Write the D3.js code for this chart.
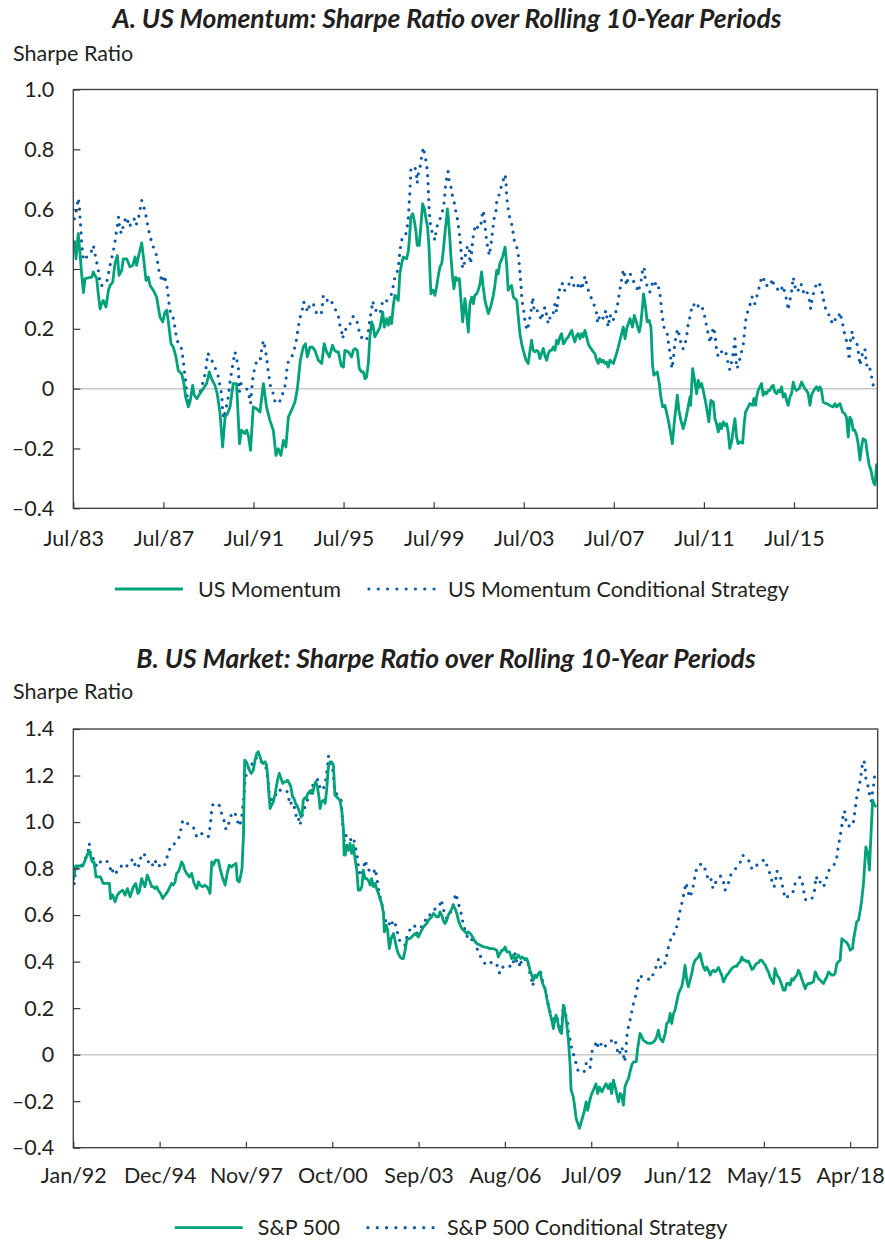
<!DOCTYPE html>
<html><head><meta charset="utf-8">
<script src="https://cdn.jsdelivr.net/npm/d3@7"></script>
<style>
body{margin:0;background:#fff;}
svg text{font-family:Lato,"Open Sans",sans-serif;fill:#231f20;}
</style></head><body>
<svg id="c" width="885" height="1241"></svg>
<script>
// ---------- Panel A data (decimal year, Sharpe ratio) ----------
const panelATitle = "A. US Momentum: Sharpe Ratio over Rolling 10-Year Periods";
const panelASeriesNames = ["US Momentum", "US Momentum Conditional Strategy"];
const panelAXLabels = ["Jul/83","Jul/87","Jul/91","Jul/95","Jul/99","Jul/03","Jul/07","Jul/11","Jul/15"];
const panelAYTicks = [-0.4,-0.2,0,0.2,0.4,0.6,0.8,1.0];
const panelAXDomain = [1983.5, 2019.2];
const usMomentum = [[1983.55,0.496],[1983.62,0.434],[1983.72,0.518],[1983.80,0.451],[1983.87,0.384],[1983.95,0.321],[1984.02,0.368],[1984.17,0.370],[1984.32,0.373],[1984.39,0.390],[1984.46,0.379],[1984.54,0.368],[1984.61,0.317],[1984.69,0.267],[1984.76,0.284],[1984.83,0.295],[1984.95,0.273],[1985.06,0.329],[1985.13,0.345],[1985.25,0.356],[1985.35,0.418],[1985.46,0.445],[1985.53,0.379],[1985.65,0.395],[1985.72,0.434],[1985.87,0.434],[1986.02,0.407],[1986.14,0.412],[1986.24,0.440],[1986.31,0.412],[1986.42,0.451],[1986.54,0.487],[1986.64,0.423],[1986.73,0.362],[1986.83,0.373],[1986.91,0.345],[1987.05,0.329],[1987.20,0.306],[1987.35,0.239],[1987.47,0.223],[1987.57,0.256],[1987.65,0.262],[1987.72,0.223],[1987.84,0.150],[1987.94,0.139],[1988.06,0.106],[1988.16,0.061],[1988.31,0.050],[1988.41,0.017],[1988.49,-0.028],[1988.61,-0.061],[1988.68,-0.045],[1988.80,0.011],[1988.87,-0.022],[1988.98,-0.033],[1989.12,-0.017],[1989.27,0.000],[1989.42,0.017],[1989.54,0.056],[1989.64,0.033],[1989.79,0.011],[1989.89,-0.017],[1990.01,-0.078],[1990.13,-0.195],[1990.24,-0.095],[1990.35,-0.083],[1990.46,-0.061],[1990.60,0.017],[1990.75,0.017],[1990.88,-0.184],[1990.97,-0.139],[1991.12,-0.150],[1991.20,-0.139],[1991.27,-0.156],[1991.37,-0.206],[1991.49,-0.061],[1991.64,-0.067],[1991.79,-0.078],[1991.94,0.017],[1992.08,-0.061],[1992.23,-0.106],[1992.38,-0.139],[1992.50,-0.223],[1992.60,-0.201],[1992.72,-0.223],[1992.83,-0.173],[1992.94,-0.195],[1993.05,-0.095],[1993.19,-0.072],[1993.34,-0.045],[1993.45,0.000],[1993.52,0.050],[1993.58,0.095],[1993.71,0.139],[1993.81,0.150],[1993.89,0.106],[1994.01,0.139],[1994.12,0.139],[1994.23,0.128],[1994.38,0.095],[1994.53,0.084],[1994.64,0.150],[1994.75,0.123],[1994.87,0.106],[1995.01,0.145],[1995.10,0.128],[1995.19,0.123],[1995.27,0.123],[1995.39,0.078],[1995.49,0.072],[1995.56,0.128],[1995.71,0.123],[1995.86,0.106],[1995.93,0.128],[1996.01,0.134],[1996.11,0.128],[1996.20,0.067],[1996.30,0.056],[1996.38,0.056],[1996.45,0.033],[1996.52,0.039],[1996.60,0.084],[1996.67,0.173],[1996.75,0.223],[1996.82,0.206],[1996.89,0.173],[1996.97,0.184],[1997.12,0.206],[1997.24,0.256],[1997.31,0.206],[1997.41,0.234],[1997.49,0.212],[1997.56,0.239],[1997.635,0.217],[1997.71,0.278],[1997.78,0.312],[1997.86,0.306],[1997.93,0.295],[1998.00,0.384],[1998.08,0.418],[1998.15,0.440],[1998.30,0.434],[1998.38,0.462],[1998.42,0.496],[1998.49,0.574],[1998.57,0.585],[1998.64,0.562],[1998.71,0.529],[1998.77,0.479],[1998.86,0.479],[1998.94,0.551],[1999.01,0.618],[1999.09,0.601],[1999.16,0.568],[1999.23,0.540],[1999.29,0.479],[1999.34,0.384],[1999.38,0.317],[1999.48,0.329],[1999.56,0.312],[1999.63,0.340],[1999.71,0.379],[1999.78,0.407],[1999.86,0.418],[1999.93,0.462],[2000.00,0.518],[2000.08,0.574],[2000.11,0.601],[2000.15,0.574],[2000.22,0.501],[2000.27,0.440],[2000.34,0.373],[2000.40,0.334],[2000.48,0.373],[2000.57,0.362],[2000.64,0.368],[2000.71,0.301],[2000.79,0.223],[2000.89,0.301],[2000.96,0.251],[2001.04,0.189],[2001.11,0.284],[2001.19,0.306],[2001.26,0.284],[2001.33,0.312],[2001.41,0.317],[2001.48,0.329],[2001.56,0.351],[2001.63,0.390],[2001.70,0.340],[2001.78,0.295],[2001.85,0.273],[2001.93,0.251],[2002.03,0.273],[2002.15,0.312],[2002.22,0.345],[2002.30,0.395],[2002.37,0.384],[2002.44,0.418],[2002.56,0.440],[2002.67,0.473],[2002.74,0.418],[2002.81,0.329],[2002.89,0.340],[2002.96,0.345],[2003.04,0.306],[2003.19,0.295],[2003.26,0.239],[2003.33,0.184],[2003.41,0.150],[2003.48,0.128],[2003.60,0.095],[2003.70,0.084],[2003.78,0.128],[2003.85,0.161],[2003.92,0.128],[2004.00,0.123],[2004.07,0.128],[2004.15,0.123],[2004.22,0.100],[2004.29,0.117],[2004.37,0.134],[2004.44,0.111],[2004.52,0.095],[2004.59,0.117],[2004.67,0.128],[2004.74,0.128],[2004.81,0.139],[2004.89,0.128],[2004.96,0.161],[2005.03,0.150],[2005.11,0.173],[2005.18,0.184],[2005.26,0.150],[2005.33,0.156],[2005.40,0.167],[2005.48,0.173],[2005.55,0.184],[2005.63,0.195],[2005.70,0.173],[2005.77,0.156],[2005.85,0.178],[2005.92,0.184],[2006.00,0.167],[2006.07,0.184],[2006.14,0.173],[2006.22,0.195],[2006.29,0.173],[2006.37,0.150],[2006.44,0.139],[2006.59,0.123],[2006.66,0.117],[2006.74,0.095],[2006.81,0.084],[2006.88,0.100],[2006.96,0.089],[2007.03,0.095],[2007.11,0.084],[2007.18,0.089],[2007.25,0.072],[2007.33,0.095],[2007.40,0.089],[2007.48,0.084],[2007.62,0.117],[2007.70,0.139],[2007.77,0.161],[2007.85,0.184],[2007.92,0.206],[2008.00,0.167],[2008.07,0.200],[2008.22,0.234],[2008.33,0.206],[2008.41,0.245],[2008.48,0.228],[2008.56,0.206],[2008.63,0.189],[2008.69,0.212],[2008.76,0.262],[2008.82,0.317],[2008.91,0.273],[2008.98,0.223],[2009.07,0.228],[2009.15,0.206],[2009.22,0.078],[2009.28,0.045],[2009.35,0.050],[2009.43,0.056],[2009.52,0.017],[2009.59,-0.028],[2009.67,-0.061],[2009.77,-0.056],[2009.89,-0.095],[2009.99,-0.134],[2010.10,-0.184],[2010.18,-0.117],[2010.32,-0.022],[2010.39,-0.072],[2010.48,-0.106],[2010.58,-0.134],[2010.70,-0.100],[2010.80,-0.061],[2010.88,-0.028],[2010.91,-0.056],[2011.00,0.067],[2011.10,0.022],[2011.18,-0.017],[2011.25,0.028],[2011.32,0.006],[2011.40,0.017],[2011.47,-0.006],[2011.59,-0.050],[2011.72,-0.111],[2011.81,-0.039],[2011.92,-0.045],[2011.99,-0.100],[2012.06,-0.117],[2012.14,-0.145],[2012.21,-0.117],[2012.28,-0.134],[2012.36,-0.111],[2012.43,-0.123],[2012.51,-0.117],[2012.58,-0.145],[2012.65,-0.200],[2012.73,-0.178],[2012.80,-0.139],[2012.88,-0.100],[2012.95,-0.161],[2013.02,-0.184],[2013.10,-0.178],[2013.22,-0.182],[2013.29,-0.117],[2013.35,-0.078],[2013.47,-0.061],[2013.54,-0.050],[2013.66,-0.056],[2013.72,-0.033],[2013.80,-0.056],[2013.84,-0.028],[2013.91,-0.006],[2013.99,0.006],[2014.06,0.017],[2014.13,-0.022],[2014.21,-0.011],[2014.28,-0.017],[2014.36,-0.006],[2014.43,-0.006],[2014.50,0.006],[2014.58,0.011],[2014.65,-0.011],[2014.73,-0.017],[2014.80,-0.006],[2014.87,-0.011],[2014.95,0.006],[2015.02,-0.028],[2015.10,-0.017],[2015.17,-0.039],[2015.24,-0.056],[2015.32,-0.028],[2015.39,-0.017],[2015.47,0.022],[2015.54,0.000],[2015.61,-0.006],[2015.73,0.000],[2015.84,0.022],[2015.91,0.011],[2015.98,0.000],[2016.06,-0.006],[2016.13,-0.017],[2016.21,-0.056],[2016.28,-0.022],[2016.35,-0.011],[2016.43,0.000],[2016.50,0.006],[2016.58,-0.006],[2016.65,0.006],[2016.72,-0.006],[2016.80,-0.045],[2016.95,-0.050],[2017.10,-0.056],[2017.24,-0.061],[2017.32,-0.050],[2017.39,-0.061],[2017.54,-0.050],[2017.66,-0.078],[2017.76,-0.084],[2017.83,-0.095],[2017.91,-0.161],[2017.98,-0.095],[2018.06,-0.106],[2018.13,-0.139],[2018.20,-0.139],[2018.28,-0.156],[2018.35,-0.184],[2018.43,-0.239],[2018.50,-0.195],[2018.57,-0.167],[2018.68,-0.173],[2018.77,-0.223],[2018.84,-0.256],[2018.92,-0.273],[2018.99,-0.301],[2019.05,-0.317],[2019.10,-0.322],[2019.17,-0.251]];
const usMomentumConditional = [[1983.55,0.568],[1983.62,0.590],[1983.68,0.618],[1983.72,0.637],[1983.77,0.613],[1983.80,0.568],[1983.83,0.540],[1983.87,0.484],[1983.92,0.451],[1983.95,0.429],[1984.09,0.440],[1984.21,0.445],[1984.32,0.462],[1984.39,0.479],[1984.46,0.451],[1984.54,0.423],[1984.61,0.395],[1984.66,0.368],[1984.72,0.345],[1984.83,0.345],[1984.91,0.351],[1984.98,0.356],[1985.06,0.384],[1985.13,0.412],[1985.20,0.434],[1985.28,0.462],[1985.35,0.490],[1985.40,0.518],[1985.46,0.546],[1985.51,0.574],[1985.57,0.529],[1985.65,0.518],[1985.75,0.557],[1985.87,0.574],[1985.99,0.540],[1986.09,0.557],[1986.20,0.568],[1986.28,0.546],[1986.39,0.568],[1986.46,0.596],[1986.54,0.629],[1986.61,0.613],[1986.70,0.590],[1986.76,0.562],[1986.88,0.518],[1986.98,0.490],[1987.08,0.468],[1987.20,0.445],[1987.30,0.395],[1987.38,0.373],[1987.47,0.356],[1987.54,0.379],[1987.62,0.356],[1987.69,0.329],[1987.76,0.278],[1987.82,0.251],[1987.91,0.245],[1987.99,0.217],[1988.04,0.189],[1988.12,0.161],[1988.21,0.139],[1988.31,0.134],[1988.39,0.089],[1988.43,0.061],[1988.50,0.017],[1988.53,-0.017],[1988.61,-0.045],[1988.71,-0.028],[1988.80,0.000],[1988.90,-0.028],[1988.98,-0.033],[1989.05,-0.022],[1989.16,-0.006],[1989.24,0.017],[1989.32,0.039],[1989.39,0.067],[1989.47,0.119],[1989.57,0.106],[1989.72,0.084],[1989.87,0.056],[1989.97,0.033],[1990.01,0.006],[1990.09,-0.017],[1990.13,-0.072],[1990.18,-0.100],[1990.24,-0.078],[1990.31,-0.056],[1990.38,-0.028],[1990.46,0.022],[1990.53,0.056],[1990.61,0.095],[1990.68,0.123],[1990.75,0.100],[1990.83,0.072],[1990.87,-0.011],[1990.94,0.017],[1991.05,0.011],[1991.20,0.000],[1991.32,-0.028],[1991.37,-0.050],[1991.46,0.028],[1991.57,0.078],[1991.64,0.089],[1991.79,0.089],[1991.86,0.128],[1991.94,0.161],[1992.01,0.139],[1992.08,0.106],[1992.16,0.056],[1992.26,0.006],[1992.38,-0.017],[1992.48,-0.050],[1992.60,-0.045],[1992.71,-0.039],[1992.82,-0.011],[1992.93,0.017],[1993.00,0.078],[1993.09,0.100],[1993.19,0.106],[1993.27,0.117],[1993.39,0.156],[1993.49,0.206],[1993.56,0.236],[1993.67,0.262],[1993.71,0.290],[1993.81,0.284],[1993.90,0.256],[1994.01,0.284],[1994.16,0.284],[1994.27,0.256],[1994.45,0.245],[1994.53,0.256],[1994.60,0.312],[1994.72,0.306],[1994.83,0.284],[1994.97,0.290],[1995.12,0.267],[1995.27,0.245],[1995.31,0.219],[1995.41,0.195],[1995.46,0.167],[1995.52,0.189],[1995.61,0.200],[1995.71,0.217],[1995.81,0.217],[1995.93,0.242],[1996.08,0.231],[1996.16,0.204],[1996.23,0.178],[1996.38,0.164],[1996.52,0.161],[1996.60,0.189],[1996.64,0.217],[1996.70,0.245],[1996.75,0.267],[1996.79,0.293],[1996.89,0.267],[1997.04,0.251],[1997.12,0.251],[1997.19,0.273],[1997.24,0.297],[1997.31,0.295],[1997.41,0.293],[1997.56,0.306],[1997.635,0.317],[1997.71,0.345],[1997.78,0.373],[1997.86,0.384],[1997.93,0.407],[1997.97,0.434],[1998.00,0.457],[1998.05,0.484],[1998.12,0.509],[1998.23,0.512],[1998.30,0.523],[1998.38,0.574],[1998.40,0.601],[1998.42,0.629],[1998.45,0.657],[1998.46,0.685],[1998.48,0.711],[1998.49,0.738],[1998.60,0.738],[1998.67,0.741],[1998.74,0.713],[1998.77,0.687],[1998.82,0.718],[1998.89,0.737],[1998.94,0.765],[1999.01,0.791],[1999.04,0.807],[1999.11,0.780],[1999.19,0.752],[1999.22,0.724],[1999.25,0.696],[1999.26,0.668],[1999.28,0.640],[1999.29,0.613],[1999.31,0.590],[1999.34,0.562],[1999.37,0.538],[1999.46,0.518],[1999.56,0.496],[1999.60,0.523],[1999.68,0.551],[1999.82,0.574],[1999.90,0.596],[1999.97,0.624],[2000.00,0.652],[2000.03,0.679],[2000.09,0.709],[2000.14,0.726],[2000.19,0.696],[2000.27,0.674],[2000.33,0.646],[2000.42,0.620],[2000.49,0.590],[2000.57,0.562],[2000.64,0.520],[2000.68,0.496],[2000.71,0.468],[2000.74,0.440],[2000.79,0.401],[2000.86,0.418],[2000.92,0.453],[2001.01,0.479],[2001.08,0.468],[2001.11,0.418],[2001.16,0.429],[2001.23,0.496],[2001.30,0.529],[2001.38,0.549],[2001.48,0.535],[2001.60,0.546],[2001.63,0.571],[2001.70,0.596],[2001.75,0.571],[2001.81,0.523],[2001.85,0.496],[2001.90,0.473],[2001.97,0.445],[2002.07,0.496],[2002.12,0.529],[2002.19,0.571],[2002.27,0.596],[2002.30,0.624],[2002.37,0.635],[2002.44,0.663],[2002.56,0.685],[2002.62,0.707],[2002.67,0.716],[2002.71,0.698],[2002.74,0.646],[2002.78,0.618],[2002.83,0.590],[2002.89,0.568],[2002.98,0.546],[2003.08,0.496],[2003.19,0.473],[2003.26,0.445],[2003.30,0.418],[2003.33,0.390],[2003.36,0.362],[2003.39,0.334],[2003.41,0.308],[2003.45,0.282],[2003.51,0.256],[2003.55,0.228],[2003.63,0.200],[2003.67,0.195],[2003.73,0.223],[2003.81,0.248],[2003.85,0.275],[2003.90,0.306],[2003.97,0.256],[2004.07,0.262],[2004.19,0.256],[2004.27,0.228],[2004.37,0.256],[2004.44,0.273],[2004.52,0.245],[2004.59,0.217],[2004.67,0.239],[2004.78,0.239],[2004.89,0.284],[2004.96,0.256],[2005.03,0.306],[2005.11,0.340],[2005.21,0.353],[2005.26,0.329],[2005.36,0.329],[2005.51,0.349],[2005.63,0.373],[2005.70,0.351],[2005.77,0.334],[2005.92,0.345],[2006.00,0.356],[2006.07,0.331],[2006.14,0.351],[2006.22,0.376],[2006.29,0.351],[2006.37,0.329],[2006.51,0.301],[2006.66,0.273],[2006.74,0.251],[2006.78,0.219],[2006.88,0.245],[2006.96,0.247],[2007.03,0.234],[2007.15,0.262],[2007.21,0.228],[2007.25,0.206],[2007.33,0.247],[2007.45,0.225],[2007.55,0.245],[2007.65,0.273],[2007.71,0.301],[2007.77,0.329],[2007.82,0.356],[2007.88,0.375],[2007.92,0.398],[2008.00,0.373],[2008.07,0.345],[2008.14,0.373],[2008.22,0.384],[2008.32,0.375],[2008.41,0.351],[2008.51,0.340],[2008.59,0.323],[2008.66,0.345],[2008.73,0.368],[2008.78,0.398],[2008.85,0.407],[2008.88,0.375],[2008.95,0.351],[2009.03,0.329],[2009.10,0.323],[2009.18,0.342],[2009.25,0.362],[2009.32,0.356],[2009.40,0.340],[2009.47,0.345],[2009.55,0.317],[2009.59,0.290],[2009.62,0.262],[2009.67,0.234],[2009.72,0.206],[2009.81,0.200],[2009.89,0.178],[2009.93,0.150],[2009.99,0.123],[2010.04,0.095],[2010.08,0.067],[2010.14,0.095],[2010.20,0.145],[2010.26,0.173],[2010.33,0.200],[2010.39,0.184],[2010.47,0.156],[2010.54,0.134],[2010.61,0.134],[2010.70,0.161],[2010.76,0.189],[2010.80,0.215],[2010.88,0.239],[2010.95,0.267],[2011.03,0.284],[2011.10,0.275],[2011.18,0.267],[2011.28,0.282],[2011.40,0.278],[2011.50,0.253],[2011.57,0.228],[2011.65,0.198],[2011.72,0.175],[2011.77,0.153],[2011.84,0.178],[2011.92,0.206],[2011.99,0.184],[2012.03,0.156],[2012.06,0.130],[2012.14,0.106],[2012.21,0.111],[2012.28,0.123],[2012.36,0.128],[2012.43,0.130],[2012.51,0.111],[2012.58,0.084],[2012.65,0.063],[2012.73,0.089],[2012.80,0.117],[2012.88,0.167],[2012.95,0.067],[2013.02,0.075],[2013.10,0.100],[2013.17,0.123],[2013.25,0.150],[2013.32,0.200],[2013.37,0.234],[2013.44,0.256],[2013.54,0.278],[2013.62,0.306],[2013.69,0.306],[2013.76,0.284],[2013.84,0.306],[2013.91,0.323],[2013.96,0.342],[2014.06,0.371],[2014.14,0.375],[2014.21,0.345],[2014.33,0.345],[2014.43,0.342],[2014.55,0.368],[2014.61,0.345],[2014.73,0.340],[2014.83,0.323],[2014.95,0.334],[2015.02,0.345],[2015.10,0.317],[2015.20,0.290],[2015.24,0.262],[2015.32,0.295],[2015.39,0.323],[2015.47,0.373],[2015.51,0.351],[2015.61,0.323],[2015.69,0.329],[2015.81,0.351],[2015.91,0.323],[2015.98,0.334],[2016.06,0.323],[2016.13,0.317],[2016.21,0.284],[2016.24,0.267],[2016.31,0.301],[2016.38,0.323],[2016.50,0.351],[2016.61,0.356],[2016.68,0.340],[2016.77,0.317],[2016.83,0.290],[2016.92,0.262],[2017.02,0.256],[2017.09,0.234],[2017.17,0.223],[2017.24,0.239],[2017.36,0.228],[2017.47,0.234],[2017.54,0.256],[2017.61,0.234],[2017.69,0.206],[2017.76,0.178],[2017.83,0.161],[2017.91,0.128],[2017.95,0.095],[2018.01,0.161],[2018.09,0.192],[2018.13,0.167],[2018.20,0.161],[2018.28,0.156],[2018.35,0.128],[2018.43,0.078],[2018.50,0.106],[2018.57,0.123],[2018.65,0.134],[2018.72,0.078],[2018.80,0.084],[2018.87,0.067],[2018.95,0.039],[2019.02,0.011],[2019.09,0.006],[2019.17,0.006]];

// ---------- Panel B data ----------
const panelBTitle = "B. US Market: Sharpe Ratio over Rolling 10-Year Periods";
const panelBSeriesNames = ["S&P 500", "S&P 500 Conditional Strategy"];
const panelBXLabels = ["Jan/92","Dec/94","Nov/97","Oct/00","Sep/03","Aug/06","Jul/09","Jun/12","May/15","Apr/18"];
const panelBYTicks = [-0.4,-0.2,0,0.2,0.4,0.6,0.8,1.0,1.2,1.4];
const panelBXDomain = [1992.0, 2019.18];
const sp500 = [[1992.00,0.750],[1992.08,0.811],[1992.23,0.811],[1992.32,0.811],[1992.40,0.836],[1992.47,0.858],[1992.54,0.879],[1992.59,0.851],[1992.64,0.829],[1992.70,0.829],[1992.77,0.764],[1992.85,0.764],[1992.92,0.764],[1993.01,0.736],[1993.13,0.736],[1993.22,0.736],[1993.26,0.671],[1993.33,0.686],[1993.41,0.657],[1993.49,0.686],[1993.58,0.700],[1993.67,0.707],[1993.75,0.686],[1993.83,0.714],[1993.92,0.679],[1994.03,0.722],[1994.11,0.736],[1994.18,0.693],[1994.23,0.700],[1994.31,0.757],[1994.37,0.736],[1994.42,0.722],[1994.50,0.772],[1994.59,0.743],[1994.65,0.722],[1994.70,0.722],[1994.76,0.714],[1994.82,0.722],[1994.87,0.707],[1994.95,0.693],[1995.02,0.671],[1995.10,0.686],[1995.18,0.700],[1995.27,0.722],[1995.32,0.736],[1995.38,0.729],[1995.44,0.743],[1995.49,0.779],[1995.55,0.786],[1995.61,0.807],[1995.66,0.829],[1995.72,0.815],[1995.77,0.793],[1995.83,0.779],[1995.92,0.764],[1996.00,0.779],[1996.08,0.736],[1996.17,0.714],[1996.23,0.743],[1996.28,0.729],[1996.36,0.722],[1996.45,0.729],[1996.56,0.714],[1996.62,0.693],[1996.68,0.829],[1996.73,0.815],[1996.81,0.836],[1996.90,0.836],[1996.96,0.800],[1997.05,0.757],[1997.13,0.729],[1997.21,0.786],[1997.27,0.815],[1997.35,0.807],[1997.41,0.815],[1997.50,0.822],[1997.54,0.750],[1997.61,0.743],[1997.66,0.772],[1997.70,0.800],[1997.75,0.944],[1997.79,1.266],[1997.86,1.255],[1997.95,1.223],[1998.01,1.209],[1998.08,1.223],[1998.14,1.266],[1998.20,1.295],[1998.25,1.302],[1998.31,1.280],[1998.36,1.259],[1998.42,1.252],[1998.48,1.259],[1998.53,1.245],[1998.57,1.194],[1998.60,1.137],[1998.65,1.058],[1998.70,1.073],[1998.76,1.087],[1998.82,1.123],[1998.90,1.180],[1998.96,1.209],[1999.02,1.187],[1999.08,1.166],[1999.13,1.173],[1999.19,1.173],[1999.24,1.180],[1999.30,1.166],[1999.35,1.151],[1999.41,1.108],[1999.46,1.101],[1999.51,1.080],[1999.55,1.073],[1999.60,1.058],[1999.66,1.037],[1999.70,1.022],[1999.74,1.044],[1999.77,1.094],[1999.83,1.105],[1999.88,1.101],[1999.92,1.123],[1999.98,1.130],[2000.03,1.137],[2000.09,1.123],[2000.13,1.151],[2000.19,1.173],[2000.25,1.151],[2000.30,1.108],[2000.34,1.058],[2000.39,1.087],[2000.45,1.094],[2000.51,1.080],[2000.56,1.137],[2000.62,1.237],[2000.67,1.259],[2000.73,1.259],[2000.79,1.245],[2000.84,1.116],[2000.90,1.108],[2001.01,1.094],[2001.07,1.051],[2001.13,0.965],[2001.15,0.858],[2001.19,0.858],[2001.24,0.901],[2001.30,0.879],[2001.35,0.908],[2001.41,0.865],[2001.46,0.901],[2001.52,0.843],[2001.58,0.793],[2001.63,0.707],[2001.69,0.707],[2001.75,0.722],[2001.80,0.793],[2001.86,0.757],[2001.91,0.757],[2001.97,0.750],[2002.03,0.729],[2002.08,0.757],[2002.14,0.722],[2002.20,0.736],[2002.25,0.714],[2002.31,0.693],[2002.36,0.671],[2002.42,0.650],[2002.48,0.607],[2002.51,0.528],[2002.57,0.557],[2002.62,0.535],[2002.68,0.456],[2002.74,0.499],[2002.82,0.521],[2002.87,0.492],[2002.93,0.456],[2002.98,0.435],[2003.04,0.420],[2003.10,0.413],[2003.15,0.413],[2003.21,0.449],[2003.27,0.492],[2003.32,0.499],[2003.38,0.499],[2003.43,0.506],[2003.49,0.513],[2003.55,0.521],[2003.60,0.513],[2003.66,0.506],[2003.72,0.521],[2003.77,0.535],[2003.83,0.549],[2003.89,0.557],[2003.94,0.564],[2004.00,0.578],[2004.05,0.585],[2004.11,0.592],[2004.17,0.607],[2004.22,0.600],[2004.28,0.592],[2004.34,0.592],[2004.39,0.614],[2004.45,0.600],[2004.50,0.578],[2004.56,0.564],[2004.62,0.578],[2004.67,0.600],[2004.73,0.614],[2004.79,0.628],[2004.84,0.642],[2004.90,0.628],[2004.96,0.607],[2005.01,0.578],[2005.07,0.557],[2005.13,0.542],[2005.18,0.535],[2005.24,0.528],[2005.29,0.521],[2005.35,0.528],[2005.41,0.521],[2005.46,0.513],[2005.52,0.499],[2005.58,0.485],[2005.63,0.478],[2005.74,0.471],[2005.86,0.463],[2005.97,0.461],[2006.08,0.456],[2006.19,0.456],[2006.31,0.449],[2006.36,0.420],[2006.42,0.435],[2006.48,0.449],[2006.53,0.449],[2006.59,0.463],[2006.65,0.442],[2006.74,0.442],[2006.81,0.413],[2006.87,0.428],[2006.93,0.406],[2007.04,0.428],[2007.12,0.413],[2007.17,0.420],[2007.23,0.413],[2007.32,0.413],[2007.38,0.392],[2007.43,0.363],[2007.49,0.342],[2007.55,0.320],[2007.60,0.342],[2007.66,0.335],[2007.72,0.349],[2007.77,0.356],[2007.83,0.320],[2007.88,0.299],[2007.94,0.284],[2008.00,0.241],[2008.05,0.213],[2008.11,0.177],[2008.17,0.148],[2008.22,0.112],[2008.26,0.141],[2008.31,0.170],[2008.36,0.148],[2008.40,0.120],[2008.45,0.098],[2008.50,0.091],[2008.56,0.213],[2008.59,0.198],[2008.64,0.163],[2008.67,0.134],[2008.73,0.062],[2008.79,-0.052],[2008.82,-0.153],[2008.88,-0.174],[2008.92,-0.203],[2008.99,-0.274],[2009.03,-0.289],[2009.10,-0.317],[2009.18,-0.282],[2009.26,-0.246],[2009.33,-0.203],[2009.38,-0.239],[2009.44,-0.203],[2009.50,-0.174],[2009.57,-0.153],[2009.66,-0.125],[2009.72,-0.167],[2009.78,-0.139],[2009.86,-0.160],[2009.91,-0.146],[2010.00,-0.125],[2010.08,-0.146],[2010.14,-0.125],[2010.19,-0.167],[2010.25,-0.110],[2010.31,-0.139],[2010.36,-0.167],[2010.42,-0.203],[2010.48,-0.167],[2010.53,-0.174],[2010.59,-0.217],[2010.64,-0.139],[2010.70,-0.117],[2010.76,-0.103],[2010.81,-0.074],[2010.87,-0.045],[2010.93,-0.031],[2011.02,-0.031],[2011.07,0.027],[2011.15,0.091],[2011.21,0.077],[2011.26,0.062],[2011.38,0.051],[2011.49,0.048],[2011.58,0.052],[2011.66,0.062],[2011.71,0.077],[2011.77,0.105],[2011.83,0.069],[2011.92,0.055],[2012.00,0.091],[2012.05,0.134],[2012.11,0.141],[2012.17,0.177],[2012.22,0.134],[2012.28,0.177],[2012.33,0.191],[2012.39,0.227],[2012.45,0.263],[2012.50,0.277],[2012.56,0.292],[2012.62,0.334],[2012.67,0.385],[2012.73,0.320],[2012.78,0.292],[2012.84,0.320],[2012.90,0.349],[2012.95,0.385],[2013.01,0.406],[2013.07,0.413],[2013.12,0.420],[2013.18,0.435],[2013.24,0.399],[2013.29,0.377],[2013.35,0.363],[2013.40,0.377],[2013.46,0.363],[2013.52,0.342],[2013.57,0.356],[2013.63,0.363],[2013.69,0.356],[2013.74,0.363],[2013.80,0.375],[2013.86,0.356],[2013.91,0.342],[2013.97,0.313],[2014.02,0.327],[2014.08,0.342],[2014.14,0.349],[2014.19,0.360],[2014.25,0.370],[2014.31,0.377],[2014.36,0.380],[2014.42,0.380],[2014.47,0.392],[2014.53,0.399],[2014.59,0.420],[2014.64,0.406],[2014.70,0.406],[2014.76,0.399],[2014.81,0.403],[2014.87,0.385],[2014.93,0.366],[2014.98,0.370],[2015.04,0.385],[2015.09,0.392],[2015.15,0.395],[2015.21,0.406],[2015.26,0.406],[2015.32,0.395],[2015.38,0.385],[2015.43,0.370],[2015.49,0.356],[2015.54,0.334],[2015.60,0.320],[2015.66,0.306],[2015.71,0.370],[2015.77,0.342],[2015.83,0.334],[2015.88,0.320],[2015.94,0.299],[2015.99,0.277],[2016.05,0.277],[2016.11,0.306],[2016.16,0.306],[2016.22,0.299],[2016.28,0.327],[2016.33,0.320],[2016.39,0.334],[2016.45,0.342],[2016.50,0.363],[2016.56,0.349],[2016.61,0.327],[2016.67,0.306],[2016.73,0.284],[2016.78,0.299],[2016.84,0.306],[2016.90,0.306],[2017.01,0.313],[2017.07,0.356],[2017.12,0.342],[2017.18,0.327],[2017.24,0.320],[2017.29,0.313],[2017.35,0.306],[2017.40,0.320],[2017.46,0.334],[2017.52,0.356],[2017.57,0.349],[2017.63,0.342],[2017.69,0.342],[2017.74,0.349],[2017.80,0.392],[2017.85,0.399],[2017.91,0.406],[2017.97,0.499],[2018.02,0.492],[2018.11,0.485],[2018.19,0.471],[2018.25,0.449],[2018.33,0.456],[2018.36,0.492],[2018.42,0.535],[2018.47,0.571],[2018.53,0.578],[2018.59,0.621],[2018.64,0.664],[2018.70,0.736],[2018.78,0.893],[2018.85,0.865],[2018.90,0.793],[2018.96,0.965],[2019.01,1.094],[2019.07,1.073],[2019.13,1.065]];
const sp500Conditional = [[1992.03,0.736],[1992.06,0.772],[1992.14,0.807],[1992.23,0.800],[1992.32,0.822],[1992.40,0.843],[1992.49,0.865],[1992.54,0.908],[1992.56,0.879],[1992.62,0.843],[1992.71,0.843],[1992.79,0.807],[1992.96,0.836],[1993.13,0.833],[1993.24,0.811],[1993.27,0.779],[1993.33,0.790],[1993.41,0.772],[1993.49,0.793],[1993.58,0.800],[1993.67,0.822],[1993.75,0.815],[1993.83,0.811],[1993.92,0.822],[1994.01,0.843],[1994.09,0.815],[1994.18,0.800],[1994.26,0.836],[1994.31,0.865],[1994.39,0.862],[1994.46,0.851],[1994.54,0.829],[1994.63,0.836],[1994.70,0.807],[1994.80,0.836],[1994.93,0.807],[1995.07,0.807],[1995.13,0.836],[1995.21,0.865],[1995.30,0.901],[1995.44,0.908],[1995.58,0.936],[1995.64,0.972],[1995.70,1.008],[1995.75,1.008],[1995.85,0.994],[1996.00,0.987],[1996.08,0.972],[1996.17,0.936],[1996.28,0.951],[1996.45,0.948],[1996.56,0.936],[1996.60,0.958],[1996.64,1.001],[1996.68,1.058],[1996.73,1.080],[1996.84,1.077],[1996.93,1.073],[1997.01,1.037],[1997.09,1.008],[1997.16,0.968],[1997.24,0.987],[1997.29,1.015],[1997.38,1.044],[1997.47,1.037],[1997.54,1.008],[1997.60,0.982],[1997.66,1.001],[1997.69,1.015],[1997.72,1.058],[1997.75,1.087],[1997.77,1.123],[1997.79,1.151],[1997.80,1.187],[1997.86,1.209],[1997.94,1.237],[1997.97,1.252],[1998.03,1.245],[1998.08,1.266],[1998.14,1.273],[1998.20,1.277],[1998.31,1.273],[1998.36,1.259],[1998.48,1.252],[1998.53,1.223],[1998.57,1.194],[1998.60,1.151],[1998.65,1.080],[1998.73,1.101],[1998.82,1.101],[1998.87,1.137],[1998.98,1.137],[1999.13,1.137],[1999.21,1.137],[1999.27,1.108],[1999.32,1.073],[1999.38,1.087],[1999.44,1.080],[1999.49,1.051],[1999.55,1.015],[1999.60,1.022],[1999.66,0.987],[1999.72,1.022],[1999.77,1.044],[1999.83,1.065],[1999.91,1.094],[2000.00,1.108],[2000.06,1.144],[2000.13,1.173],[2000.20,1.180],[2000.28,1.183],[2000.34,1.144],[2000.43,1.137],[2000.51,1.166],[2000.56,1.209],[2000.60,1.249],[2000.62,1.283],[2000.67,1.252],[2000.73,1.252],[2000.77,1.223],[2000.82,1.151],[2000.88,1.123],[2000.99,1.108],[2001.05,1.094],[2001.07,1.058],[2001.09,1.022],[2001.10,0.987],[2001.13,0.951],[2001.16,0.915],[2001.22,0.944],[2001.30,0.936],[2001.35,0.922],[2001.41,0.929],[2001.46,0.936],[2001.52,0.901],[2001.58,0.865],[2001.61,0.836],[2001.64,0.800],[2001.70,0.767],[2001.78,0.786],[2001.84,0.822],[2001.88,0.836],[2001.91,0.800],[2002.00,0.793],[2002.06,0.786],[2002.14,0.779],[2002.20,0.800],[2002.25,0.764],[2002.29,0.729],[2002.34,0.693],[2002.40,0.664],[2002.45,0.635],[2002.50,0.600],[2002.56,0.571],[2002.65,0.578],[2002.70,0.549],[2002.76,0.564],[2002.84,0.578],[2002.93,0.542],[2002.98,0.506],[2003.07,0.478],[2003.15,0.471],[2003.21,0.471],[2003.27,0.506],[2003.36,0.535],[2003.43,0.542],[2003.53,0.557],[2003.60,0.521],[2003.68,0.528],[2003.75,0.549],[2003.83,0.557],[2003.92,0.585],[2004.00,0.585],[2004.09,0.614],[2004.17,0.621],[2004.25,0.628],[2004.37,0.635],[2004.43,0.667],[2004.48,0.642],[2004.54,0.607],[2004.62,0.585],[2004.73,0.607],[2004.82,0.635],[2004.88,0.671],[2004.93,0.693],[2004.99,0.657],[2005.07,0.628],[2005.13,0.592],[2005.18,0.557],[2005.26,0.528],[2005.35,0.492],[2005.46,0.492],[2005.52,0.506],[2005.61,0.478],[2005.67,0.442],[2005.80,0.413],[2005.94,0.385],[2006.17,0.399],[2006.31,0.392],[2006.34,0.363],[2006.42,0.349],[2006.53,0.380],[2006.70,0.385],[2006.81,0.375],[2006.87,0.399],[2006.93,0.435],[2006.98,0.399],[2007.04,0.406],[2007.10,0.375],[2007.15,0.413],[2007.21,0.406],[2007.32,0.413],[2007.38,0.385],[2007.43,0.349],[2007.49,0.320],[2007.52,0.295],[2007.58,0.327],[2007.66,0.335],[2007.75,0.342],[2007.79,0.356],[2007.86,0.313],[2007.94,0.284],[2008.00,0.249],[2008.05,0.213],[2008.11,0.184],[2008.17,0.148],[2008.22,0.120],[2008.28,0.170],[2008.34,0.163],[2008.39,0.127],[2008.45,0.105],[2008.50,0.120],[2008.56,0.213],[2008.62,0.191],[2008.65,0.163],[2008.71,0.134],[2008.73,0.098],[2008.79,0.062],[2008.84,0.027],[2008.92,-0.006],[2008.99,-0.038],[2009.07,-0.074],[2009.18,-0.074],[2009.26,-0.074],[2009.33,-0.038],[2009.41,-0.052],[2009.46,-0.060],[2009.52,0.012],[2009.63,0.041],[2009.69,0.059],[2009.74,0.027],[2009.83,0.045],[2009.91,0.027],[2010.00,0.041],[2010.08,0.045],[2010.16,0.055],[2010.23,0.069],[2010.31,0.062],[2010.36,0.031],[2010.42,-0.002],[2010.48,0.012],[2010.53,0.034],[2010.59,0.005],[2010.62,-0.031],[2010.67,-0.002],[2010.68,0.034],[2010.70,0.069],[2010.73,0.105],[2010.79,0.137],[2010.85,0.170],[2010.90,0.206],[2010.96,0.237],[2011.04,0.270],[2011.07,0.306],[2011.13,0.342],[2011.21,0.334],[2011.32,0.334],[2011.49,0.320],[2011.58,0.342],[2011.69,0.377],[2011.77,0.409],[2011.85,0.374],[2011.94,0.374],[2012.03,0.409],[2012.07,0.442],[2012.14,0.478],[2012.22,0.510],[2012.28,0.510],[2012.33,0.542],[2012.39,0.550],[2012.45,0.585],[2012.50,0.618],[2012.56,0.650],[2012.62,0.686],[2012.67,0.718],[2012.71,0.739],[2012.76,0.704],[2012.84,0.676],[2012.91,0.707],[2012.98,0.743],[2013.01,0.776],[2013.09,0.810],[2013.24,0.822],[2013.38,0.790],[2013.44,0.757],[2013.54,0.764],[2013.57,0.729],[2013.63,0.714],[2013.72,0.746],[2013.88,0.769],[2013.97,0.743],[2014.02,0.707],[2014.14,0.740],[2014.22,0.774],[2014.38,0.800],[2014.53,0.825],[2014.62,0.858],[2014.72,0.843],[2014.87,0.829],[2014.93,0.796],[2015.04,0.807],[2015.21,0.829],[2015.38,0.839],[2015.45,0.807],[2015.55,0.774],[2015.62,0.740],[2015.68,0.721],[2015.74,0.757],[2015.77,0.790],[2015.88,0.772],[2015.94,0.738],[2016.00,0.704],[2016.05,0.671],[2016.20,0.686],[2016.31,0.693],[2016.36,0.729],[2016.45,0.747],[2016.56,0.764],[2016.64,0.733],[2016.69,0.697],[2016.75,0.664],[2016.84,0.667],[2016.95,0.668],[2017.04,0.700],[2017.10,0.767],[2017.18,0.736],[2017.24,0.743],[2017.35,0.721],[2017.44,0.754],[2017.51,0.790],[2017.65,0.805],[2017.78,0.833],[2017.82,0.867],[2017.85,0.900],[2017.91,0.934],[2017.95,0.972],[2017.99,1.001],[2018.02,1.039],[2018.06,1.048],[2018.10,1.011],[2018.17,0.982],[2018.23,0.984],[2018.34,0.984],[2018.38,1.020],[2018.42,1.055],[2018.45,1.091],[2018.50,1.126],[2018.56,1.158],[2018.61,1.194],[2018.64,1.227],[2018.68,1.263],[2018.72,1.263],[2018.76,1.226],[2018.78,1.187],[2018.81,1.173],[2018.85,1.156],[2018.88,1.137],[2018.92,1.101],[2018.96,1.090],[2019.00,1.126],[2019.04,1.158],[2019.07,1.194],[2019.12,1.226]];

// ---------- drawing ----------
const GREEN = "#00a27a", BLUE = "#0b5aa8";
const FONT = "21.5px";
const MONTHS = {Jan:0,Feb:1,Mar:2,Apr:3,May:4,Jun:5,Jul:6,Aug:7,Sep:8,Oct:9,Nov:10,Dec:11};
function labelToYear(l){ const p = l.split("/"); const yy = +p[1]; return (yy < 50 ? 2000 + yy : 1900 + yy) + MONTHS[p[0]] / 12; }
function fmtY(v){ if (Math.abs(v) < 1e-9) return "0"; return (v < 0 ? "\u2013" : "") + Math.abs(v).toFixed(1); }

const svg = d3.select("#c");

function drawPanel(cfg){
  const g = svg.append("g");
  const x = d3.scaleLinear().domain(cfg.xDomain).range([cfg.left, cfg.right]);
  const y = d3.scaleLinear().domain([cfg.yTicks[0], cfg.yTicks[cfg.yTicks.length-1]]).range([cfg.bottom, cfg.top]);

  g.append("text").attr("x", cfg.titleX).attr("y", cfg.titleY).attr("text-anchor","middle")
    .style("font-size","26.5px").style("font-weight","bold").style("font-style","italic").text(cfg.title);
  g.append("text").attr("x", 13).attr("y", cfg.yLabelY).style("font-size", FONT).text("Sharpe Ratio");

  // zero line
  g.append("line").attr("x1", cfg.left).attr("x2", cfg.right).attr("y1", y(0)).attr("y2", y(0))
    .attr("stroke", "#c9c9c9").attr("stroke-width", 1.5);

  const clipId = "clip" + cfg.id;
  svg.append("clipPath").attr("id", clipId).append("rect")
    .attr("x", cfg.left).attr("y", cfg.top - 2).attr("width", cfg.right - cfg.left).attr("height", cfg.bottom - cfg.top + 4);

  const line = d3.line().x(d => x(d[0])).y(d => y(d[1]));
  const lines = g.append("g").attr("clip-path", `url(#${clipId})`);
  lines.append("path").datum(cfg.series[1].slice().sort((a,b)=>a[0]-b[0])).attr("d", line)
    .attr("fill","none").attr("stroke", BLUE).attr("stroke-width", 3.2)
    .attr("stroke-linecap","round").attr("stroke-dasharray","0 8");
  lines.append("path").datum(cfg.series[0].slice().sort((a,b)=>a[0]-b[0])).attr("d", line)
    .attr("fill","none").attr("stroke", GREEN).attr("stroke-width", 2.8).attr("stroke-linejoin","round");

  // axes
  const yAxis = d3.axisLeft(y).tickValues(cfg.yTicks).tickSize(-7).tickPadding(19).tickFormat(fmtY);
  const ya = g.append("g").attr("transform", `translate(${cfg.left},0)`).call(yAxis);
  const xTicks = cfg.xLabels.map(labelToYear);
  const xAxis = d3.axisBottom(x).tickValues(xTicks).tickSize(-6).tickPadding(cfg.xPad)
    .tickFormat((d,i) => cfg.xLabels[i]);
  const xa = g.append("g").attr("transform", `translate(0,${cfg.bottom})`).call(xAxis);
  [ya, xa].forEach(a => {
    a.select(".domain").remove();
    a.selectAll(".tick line").attr("stroke", "#3a3a3a").attr("stroke-width", 1.2);
    a.selectAll(".tick text").style("font-size", FONT).style("font-family","Lato, sans-serif").attr("fill","#231f20");
  });

  // frame
  g.append("rect").attr("x", cfg.left).attr("y", cfg.top).attr("width", cfg.right - cfg.left)
    .attr("height", cfg.bottom - cfg.top).attr("fill","none").attr("stroke","#3a3a3a").attr("stroke-width", 1.3);

  // legend
  const lg = g.append("g");
  const t1 = lg.append("text").attr("y", cfg.legendY).attr("dy","0.35em").style("font-size", FONT).text(cfg.names[0]);
  const t2 = lg.append("text").attr("y", cfg.legendY).attr("dy","0.35em").style("font-size", FONT).text(cfg.names[1]);
  const w1 = t1.node().getComputedTextLength(), w2 = t2.node().getComputedTextLength();
  const sw = 68, gapA = 15, gapB = 26, gapC = 13;
  const total = sw + gapA + w1 + gapB + sw + gapC + w2;
  let x0 = cfg.legendCx - total / 2;
  lg.append("line").attr("x1", x0).attr("x2", x0 + sw).attr("y1", cfg.legendY).attr("y2", cfg.legendY)
    .attr("stroke", GREEN).attr("stroke-width", 2.8);
  t1.attr("x", x0 + sw + gapA);
  const xd = x0 + sw + gapA + w1 + gapB;
  lg.append("line").attr("x1", xd + 2).attr("x2", xd + sw).attr("y1", cfg.legendY).attr("y2", cfg.legendY)
    .attr("stroke", BLUE).attr("stroke-width", 3.2).attr("stroke-linecap","round").attr("stroke-dasharray","0 9.3");
  t2.attr("x", xd + sw + gapC);
}

drawPanel({id:"A", title: panelATitle, titleX: 447, titleY: 28, yLabelY: 61,
  left: 73.3, right: 877.3, top: 89.5, bottom: 508.3,
  xDomain: panelAXDomain, yTicks: panelAYTicks, xLabels: panelAXLabels, xPad: 22,
  series: [usMomentum, usMomentumConditional], names: panelASeriesNames,
  legendY: 589, legendCx: 452});

drawPanel({id:"B", title: panelBTitle, titleX: 446, titleY: 668, yLabelY: 699,
  left: 73.3, right: 877.7, top: 729, bottom: 1147.7,
  xDomain: panelBXDomain, yTicks: panelBYTicks, xLabels: panelBXLabels, xPad: 20.5,
  series: [sp500, sp500Conditional], names: panelBSeriesNames,
  legendY: 1227.7, legendCx: 451});
</script>
</body></html>
